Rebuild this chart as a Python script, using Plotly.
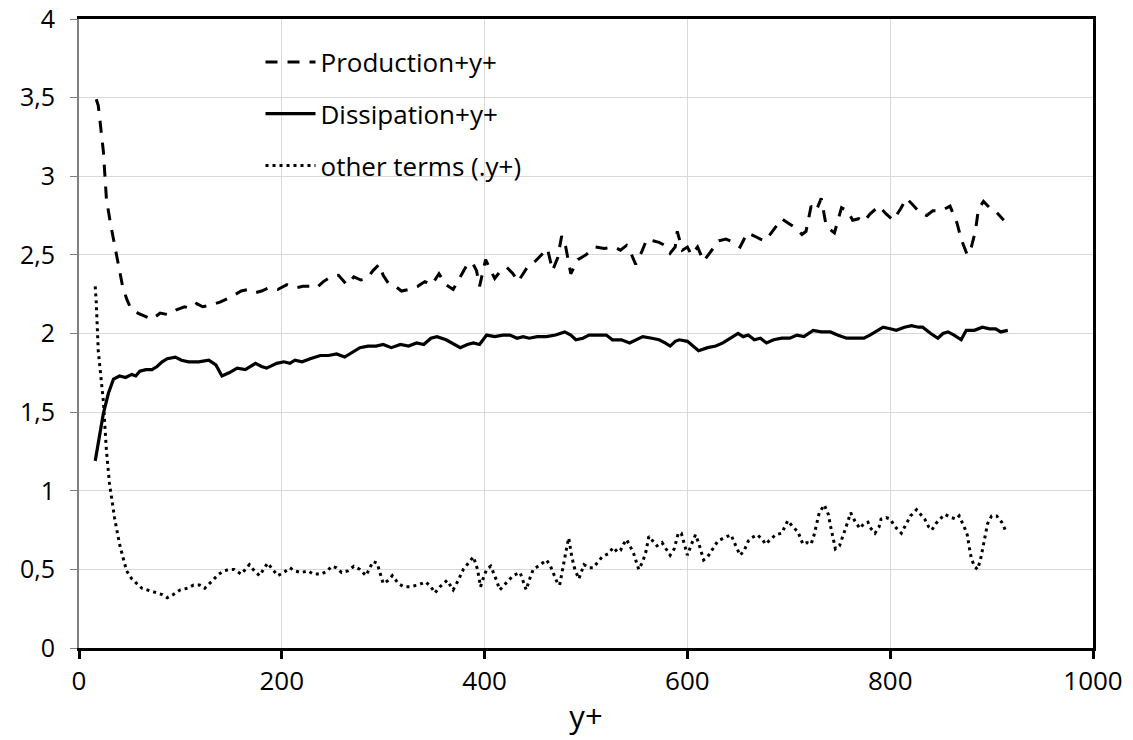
import plotly.graph_objects as go

# ---------------- data ----------------
prod_x = [17, 19, 24, 27, 31, 37, 43, 47, 51, 58, 65, 72, 80, 88, 96, 104, 110, 116, 122, 130,
          139, 149, 160, 167, 174, 180, 187, 196, 205, 213, 221, 228, 234, 241, 248, 256, 264, 271,
          278, 284, 290, 296, 300, 305, 312, 318, 325, 334, 341, 348, 355, 362, 369, 376, 383, 388,
          392, 395, 401, 406, 410, 416, 422, 428, 433, 438, 443, 450, 457, 462, 467, 472, 476, 480,
          485, 492, 500, 509, 518, 528, 534, 540, 545, 549, 555, 560, 566, 572, 578, 583, 588, 590,
          595, 600, 604, 610, 616, 624, 631, 638, 646, 652, 659, 666, 672, 677, 684, 693, 700, 707,
          713, 717, 722, 727, 732, 737, 745, 752, 758, 763, 769, 774, 780, 789, 796, 803, 810, 816,
          822, 829, 836, 842, 850, 859, 866, 870, 876, 880, 884, 887, 892, 898, 905, 912]
prod_y = [3.49, 3.45, 3.16, 2.86, 2.70, 2.50, 2.30, 2.22, 2.16, 2.13, 2.11, 2.09, 2.13, 2.12, 2.15,
          2.17, 2.16, 2.19, 2.17, 2.18, 2.20, 2.23, 2.27, 2.28, 2.26, 2.27, 2.29, 2.28, 2.31, 2.29,
          2.30, 2.30, 2.29, 2.33, 2.36, 2.37, 2.31, 2.36, 2.34, 2.35, 2.40, 2.44, 2.37, 2.32, 2.30,
          2.27, 2.28, 2.30, 2.33, 2.31, 2.38, 2.31, 2.28, 2.36, 2.44, 2.45, 2.40, 2.30, 2.47, 2.40,
          2.35, 2.40, 2.42, 2.38, 2.33, 2.38, 2.43, 2.46, 2.51, 2.54, 2.40, 2.48, 2.62, 2.55, 2.38,
          2.47, 2.50, 2.55, 2.54, 2.55, 2.53, 2.56, 2.50, 2.44, 2.52, 2.60, 2.59, 2.58, 2.56, 2.51,
          2.55, 2.65, 2.53, 2.55, 2.50, 2.55, 2.46, 2.53, 2.59, 2.60, 2.58, 2.55, 2.64, 2.62, 2.60,
          2.59, 2.65, 2.73, 2.70, 2.67, 2.63, 2.65, 2.81, 2.78, 2.86, 2.68, 2.64, 2.80, 2.78, 2.72,
          2.73, 2.71, 2.76, 2.81, 2.76, 2.72, 2.79, 2.86, 2.82, 2.77, 2.75, 2.78, 2.78, 2.81, 2.70,
          2.60, 2.50, 2.55, 2.65, 2.79, 2.84, 2.80, 2.77, 2.72]

diss_x = [16, 20, 24, 29, 34, 40, 46, 52, 56, 60, 66, 72, 77, 82, 87, 95, 101, 108, 118, 128, 135,
          141, 148, 156, 164, 174, 180, 185, 195, 202, 208, 213, 220, 228, 238, 246, 254, 262, 270,
          277, 285, 293, 300, 308, 317, 325, 333, 340, 347, 353, 362, 370, 376, 383, 389, 395, 402,
          410, 418, 425, 432, 438, 444, 452, 461, 470, 479, 485, 490, 497, 503, 512, 520, 526, 535,
          543, 550, 556, 565, 572, 578, 583, 588, 592, 600, 606, 611, 620, 628, 635, 643, 650, 655,
          660, 666, 672, 678, 685, 693, 701, 708, 715, 724, 732, 741, 748, 757, 765, 774, 780, 787,
          793, 800, 806, 814, 821, 828, 832, 840, 847, 852, 857, 863, 870, 875, 883, 891, 898, 904,
          909, 916]
diss_y = [1.19, 1.35, 1.49, 1.62, 1.71, 1.73, 1.72, 1.74, 1.73, 1.76, 1.77, 1.77, 1.79, 1.82, 1.84,
          1.85, 1.83, 1.82, 1.82, 1.83, 1.80, 1.73, 1.75, 1.78, 1.77, 1.81, 1.79, 1.78, 1.81, 1.82,
          1.81, 1.83, 1.82, 1.84, 1.86, 1.86, 1.87, 1.85, 1.88, 1.91, 1.92, 1.92, 1.93, 1.91, 1.93,
          1.92, 1.94, 1.93, 1.97, 1.98, 1.96, 1.93, 1.91, 1.93, 1.94, 1.93, 1.99, 1.98, 1.99, 1.99,
          1.97, 1.98, 1.97, 1.98, 1.98, 1.99, 2.01, 1.99, 1.96, 1.97, 1.99, 1.99, 1.99, 1.96, 1.96,
          1.94, 1.96, 1.98, 1.97, 1.96, 1.94, 1.92, 1.95, 1.96, 1.95, 1.92, 1.89, 1.91, 1.92, 1.94,
          1.97, 2.00, 1.98, 1.99, 1.96, 1.97, 1.94, 1.96, 1.97, 1.97, 1.99, 1.98, 2.02, 2.01, 2.01,
          1.99, 1.97, 1.97, 1.97, 1.99, 2.02, 2.04, 2.03, 2.02, 2.04, 2.05, 2.04, 2.04, 2.00, 1.97,
          2.00, 2.01, 1.99, 1.96, 2.02, 2.02, 2.04, 2.03, 2.03, 2.01, 2.02]

other_x = [16, 17, 19, 22, 24, 27, 30, 35, 40, 44, 47, 52, 57, 62, 67, 72, 77, 82, 87, 93, 100, 107,
           113, 119, 124, 133, 138, 143, 148, 153, 160, 164, 168, 173, 178, 182, 186, 191, 196, 202,
           208, 213, 219, 226, 231, 239, 245, 249, 254, 259, 265, 271, 277, 283, 287, 290, 294, 300,
           305, 309, 315, 320, 326, 334, 342, 347, 351, 356, 363, 366, 369, 374, 379, 384, 389, 393,
           396, 399, 402, 406, 410, 415, 421, 428, 435, 438, 441, 445, 448, 455, 461, 465, 468, 472,
           474, 478, 481, 483, 486, 489, 493, 498, 503, 507, 512, 516, 522, 527, 531, 534, 537, 540,
           544, 547, 550, 552, 556, 559, 562, 566, 570, 575, 579, 583, 587, 591, 594, 597, 600, 604,
           608, 611, 616, 620, 625, 630, 636, 643, 647, 652, 656, 660, 663, 669, 674, 677, 682, 687,
           693, 699, 704, 709, 712, 714, 718, 722, 725, 727, 730, 735, 739, 741, 743, 746, 750, 753,
           757, 761, 765, 770, 774, 778, 781, 785, 789, 791, 796, 800, 805, 811, 816, 820, 826, 830,
           834, 838, 841, 845, 849, 854, 860, 865, 868, 873, 876, 878, 880, 883, 886, 889, 891, 893,
           896, 900, 905, 910, 915]
other_y = [2.30, 2.20, 1.89, 1.70, 1.57, 1.26, 1.05, 0.83, 0.66, 0.56, 0.49, 0.44, 0.41, 0.38, 0.37,
           0.36, 0.35, 0.34, 0.32, 0.34, 0.37, 0.38, 0.40, 0.40, 0.38, 0.44, 0.47, 0.49, 0.50, 0.50,
           0.47, 0.50, 0.53, 0.49, 0.46, 0.50, 0.54, 0.50, 0.46, 0.48, 0.51, 0.49, 0.48, 0.49, 0.47,
           0.47, 0.49, 0.52, 0.51, 0.48, 0.49, 0.52, 0.50, 0.46, 0.51, 0.55, 0.54, 0.41, 0.43, 0.46,
           0.41, 0.39, 0.39, 0.40, 0.42, 0.39, 0.35, 0.39, 0.43, 0.40, 0.37, 0.43, 0.50, 0.54, 0.58,
           0.50, 0.39, 0.45, 0.50, 0.52, 0.46, 0.37, 0.41, 0.46, 0.48, 0.43, 0.37, 0.45, 0.50, 0.53,
           0.56, 0.52, 0.47, 0.41, 0.40, 0.55, 0.64, 0.70, 0.58, 0.50, 0.44, 0.53, 0.51, 0.51, 0.55,
           0.58, 0.60, 0.64, 0.61, 0.62, 0.66, 0.69, 0.64, 0.60, 0.54, 0.50, 0.55, 0.61, 0.71, 0.68,
           0.65, 0.67, 0.63, 0.59, 0.63, 0.73, 0.73, 0.66, 0.59, 0.66, 0.72, 0.67, 0.56, 0.58, 0.63,
           0.68, 0.70, 0.72, 0.66, 0.59, 0.62, 0.68, 0.70, 0.72, 0.69, 0.66, 0.69, 0.72, 0.73, 0.81,
           0.77, 0.74, 0.69, 0.66, 0.67, 0.66, 0.72, 0.78, 0.86, 0.91, 0.85, 0.78, 0.71, 0.63, 0.65,
           0.70, 0.78, 0.86, 0.81, 0.76, 0.79, 0.80, 0.76, 0.73, 0.77, 0.82, 0.83, 0.82, 0.77, 0.73,
           0.79, 0.84, 0.88, 0.85, 0.82, 0.77, 0.75, 0.79, 0.82, 0.85, 0.83, 0.82, 0.84, 0.77, 0.72,
           0.64, 0.57, 0.52, 0.50, 0.56, 0.63, 0.70, 0.79, 0.84, 0.84, 0.80, 0.73]

series_names = ["Production+y+", "Dissipation+y+", "other terms (.y+)"]
x_ticks = [0, 200, 400, 600, 800, 1000]
y_ticks = [0, 0.5, 1, 1.5, 2, 2.5, 3, 3.5, 4]
y_tick_labels = ["0", "0,5", "1", "1,5", "2", "2,5", "3", "3,5", "4"]
x_title = "y+"

# ---------------- figure ----------------
FONT = "'Open Sans', 'Noto Sans', sans-serif"
fig = go.Figure()
fig.add_trace(go.Scatter(x=prod_x, y=prod_y, mode="lines", name=series_names[0],
                         legendgroup="a",
                         line=dict(color="black", width=3, dash="12px,10px")))
fig.add_trace(go.Scatter(x=diss_x, y=diss_y, mode="lines", name=series_names[1],
                         legendgroup="b",
                         line=dict(color="black", width=3.2)))
fig.add_trace(go.Scatter(x=other_x, y=other_y, mode="lines", name=series_names[2],
                         legendgroup="c",
                         line=dict(color="black", width=3, dash="3px,4px")))
# invisible trace on frame axes (top and right) to draw the black frame lines
fig.add_trace(go.Scatter(x=[None], y=[None], xaxis="x2", yaxis="y2",
                         showlegend=False, hoverinfo="skip"))

fig.update_layout(
    width=1133, height=740,
    margin=dict(l=79, r=40, t=19, b=92, autoexpand=False),
    paper_bgcolor="white", plot_bgcolor="white",
    font=dict(family=FONT, size=26, color="black"),
    showlegend=True,
    legend=dict(x=0.179, y=0.969, xanchor="left", yanchor="top",
                bgcolor="rgba(0,0,0,0)", font=dict(size=26, family=FONT),
                traceorder="grouped", tracegroupgap=15, itemwidth=50),
    xaxis=dict(range=[0, 1000], tickvals=x_ticks, ticktext=[str(v) for v in x_ticks],
               showgrid=True, gridcolor="#d9d9d9", gridwidth=1, automargin=False,
               showline=True, linecolor="black", linewidth=3, mirror=False,
               ticks="outside", ticklen=8, tickwidth=3, tickcolor="black",
               ticklabeloverflow="allow",
               zeroline=False, title=dict(text=x_title, standoff=10),
               tickfont=dict(size=26)),
    xaxis2=dict(range=[0, 1000], overlaying="x", side="top", anchor="y", showline=True,
                linecolor="black", linewidth=3, showgrid=False, showticklabels=False,
                ticks="", zeroline=False, automargin=False),
    yaxis=dict(range=[0, 4], tickvals=y_ticks, ticktext=y_tick_labels,
               showgrid=True, gridcolor="#d9d9d9", gridwidth=1, automargin=False,
               showline=True, linecolor="#7f7f7f", linewidth=2,
               ticks="outside", ticklen=7, tickwidth=1, tickcolor="#7f7f7f",
               ticklabelstandoff=10, ticklabeloverflow="allow",
               zeroline=False, tickfont=dict(size=25)),
    yaxis2=dict(range=[0, 4], overlaying="y", side="right", anchor="x", showline=True,
                linecolor="black", linewidth=3, showgrid=False, showticklabels=False,
                ticks="", zeroline=False, automargin=False),
)

fig.write_html("out.html", config={"displayModeBar": False})
